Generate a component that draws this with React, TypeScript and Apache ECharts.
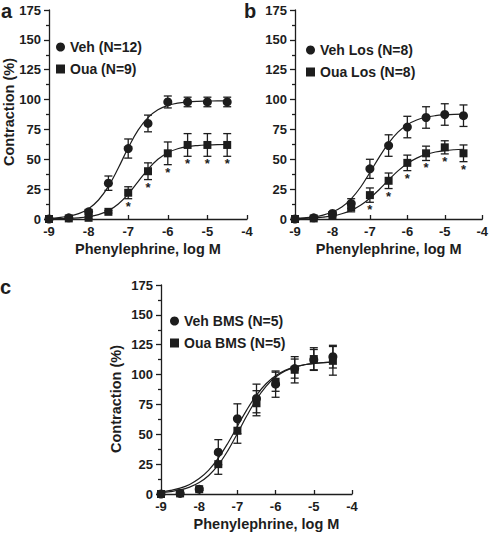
import React, { useEffect, useRef } from 'react';
import * as echarts from 'echarts';

const FONT = '"Liberation Sans", Arial, Helvetica, sans-serif';
const INK = '#1d1d1d';

// Phenylephrine doses (log M)
const DOSES = [-9, -8.5, -8, -7.5, -7, -6.5, -6, -5.5, -5, -4.5];

// Panel a
const VEH_A = [0, 1, 6, 30, 59, 80, 98, 98, 98, 98];
const VEH_A_ERR = [0, 1, 2, 6, 8, 7, 5, 4, 4, 4];
const OUA_A = [0, 0.5, 1, 6, 22, 40, 55, 62, 62, 62];
const OUA_A_ERR = [0, 0.5, 1, 1, 5, 7, 9.5, 9.5, 9.5, 9.5];
const STAR_A = [-7, -6.5, -6, -5.5, -5, -4.5];

// Panel b
const VEH_B = [0, 1, 4.7, 13, 42, 61.5, 77, 85, 87.5, 86.5];
const VEH_B_ERR = [0, 1, 1.5, 4, 8, 9, 9, 9, 9, 9];
const OUA_B = [0, 0.5, 3, 10, 20, 32, 47, 55, 60, 55];
const OUA_B_ERR = [0, 0.5, 1, 4, 6, 6.5, 6.5, 6, 5.5, 7];
const STAR_B = [-7, -6.5, -6, -5.5, -5, -4.5];

// Panel c
const VEH_C = [0, 0.5, 4, 35, 63, 80, 92, 105, 112.5, 115];
const VEH_C_ERR = [0, 0.5, 1, 10.5, 12.5, 12, 11, 8, 8.5, 9.5];
const OUA_C = [0, 0.5, 4, 25, 53, 76, 94, 104, 113, 111.5];
const OUA_C_ERR = [0, 0.5, 1, 8.5, 10.5, 10.5, 8, 11, 9.5, 12];

// Fitted curves read at quarter-log steps
const CURVE_X = [-9, -8.75, -8.5, -8.25, -8, -7.75, -7.5, -7.25, -7, -6.75, -6.5, -6.25, -6, -5.75, -5.5, -5.25, -5, -4.75, -4.5];
const VEH_A_FIT = [0.6, 1.2, 2.3, 4.5, 8.6, 15.9, 27.3, 42.7, 59.6, 74.4, 84.9, 91.4, 95.0, 97.0, 98.0, 98.5, 98.7, 98.9, 98.9];
const OUA_A_FIT = [0.1, 0.3, 0.5, 1.0, 1.9, 3.7, 7.0, 12.6, 20.9, 31.3, 41.6, 50.0, 55.5, 58.8, 60.6, 61.5, 62.0, 62.3, 62.4];
const VEH_B_FIT = [0.5, 1.0, 1.8, 3.3, 5.9, 10.1, 16.9, 26.6, 38.9, 51.8, 63.5, 72.7, 79.0, 82.9, 85.2, 86.5, 87.2, 87.6, 87.8];
const OUA_B_FIT = [0.3, 0.5, 0.9, 1.6, 2.6, 4.4, 7.2, 11.5, 17.4, 24.7, 32.7, 40.3, 46.5, 51.0, 54.1, 56.1, 57.3, 58.0, 58.4];
const VEH_C_FIT = [1.8, 3.0, 4.9, 8.0, 12.9, 20.0, 30.0, 42.5, 56.7, 70.7, 82.8, 92.3, 99.0, 103.5, 106.4, 108.2, 109.3, 110.0, 110.4];
const OUA_C_FIT = [1.2, 2.0, 3.4, 5.8, 9.6, 15.5, 24.3, 36.3, 50.7, 65.7, 79.3, 90.2, 97.9, 103.0, 106.2, 108.2, 109.4, 110.0, 110.4];

const X_NAME = 'Phenylephrine, log M';
const Y_NAME = 'Contraction (%)';

const pts = (xs: number[], ys: number[]) => xs.map((x, i) => [x, ys[i]]);
const errs = (xs: number[], ys: number[], es: number[]) => xs.map((x, i) => [x, ys[i], es[i]]);
const stars = (sx: number[], ys: number[], es: number[]) =>
  sx.map((x) => {
    const i = DOSES.indexOf(x);
    return [x, ys[i] - es[i]];
  });

const errRender = (_p: any, api: any) => {
  const x = api.value(0);
  const m = api.value(1);
  const e = api.value(2);
  if (!e) return { type: 'group', children: [] };
  const t = api.coord([x, m + e]);
  const b = api.coord([x, m - e]);
  const hw = 4;
  const style = { stroke: INK, lineWidth: 1.3 };
  return {
    type: 'group',
    children: [
      { type: 'line', shape: { x1: t[0], y1: t[1], x2: b[0], y2: b[1] }, style },
      { type: 'line', shape: { x1: t[0] - hw, y1: t[1], x2: t[0] + hw, y2: t[1] }, style },
      { type: 'line', shape: { x1: b[0] - hw, y1: b[1], x2: b[0] + hw, y2: b[1] }, style },
    ],
  };
};

const starRender = (_p: any, api: any) => {
  const p = api.coord([api.value(0), api.value(1)]);
  return {
    type: 'text',
    x: p[0],
    y: p[1] + 1,
    style: {
      text: '*',
      fontSize: 13,
      fontWeight: 'bold',
      fontFamily: FONT,
      fill: INK,
      align: 'center',
      verticalAlign: 'top',
    },
  };
};

const axisLineStyle = { color: INK, width: 1.3 };
const labelStyle = { fontSize: 13, fontWeight: 'bold' as const, color: INK, fontFamily: FONT };
const nameStyle = { fontSize: 14.5, fontWeight: 'bold' as const, color: INK, fontFamily: FONT };

const makeX = (gridIndex: number, pad: number[]) => ({
  gridIndex,
  type: 'value',
  min: -9,
  max: -4,
  interval: 1,
  axisLine: { show: true, onZero: false, lineStyle: axisLineStyle },
  axisTick: { show: true, inside: true, length: 4, lineStyle: axisLineStyle },
  axisLabel: { ...labelStyle, margin: 6 },
  splitLine: { show: false },
  name: X_NAME,
  nameLocation: 'middle',
  nameGap: 22,
  nameTextStyle: { ...nameStyle, padding: pad },
});

const makeY = (gridIndex: number) => ({
  gridIndex,
  type: 'value',
  min: 0,
  max: 175,
  interval: 25,
  axisLine: { show: true, lineStyle: axisLineStyle },
  axisTick: { show: true, inside: false, length: 5, lineStyle: axisLineStyle },
  minorTick: { show: true, splitNumber: 2, length: 3, lineStyle: axisLineStyle },
  axisLabel: { ...labelStyle, margin: 8 },
  splitLine: { show: false },
});

const curve = (name: string, idx: number, ys: number[]) => ({
  name,
  type: 'line',
  xAxisIndex: idx,
  yAxisIndex: idx,
  data: pts(CURVE_X, ys),
  smooth: 0.4,
  showSymbol: false,
  symbol: 'none',
  silent: true,
  lineStyle: { color: INK, width: 1.2 },
  z: 2,
});

const errSeries = (name: string, idx: number, ys: number[], es: number[]) => ({
  name,
  type: 'custom',
  coordinateSystem: 'cartesian2d',
  xAxisIndex: idx,
  yAxisIndex: idx,
  data: errs(DOSES, ys, es),
  encode: { x: 0, y: 1 },
  renderItem: errRender,
  silent: true,
  z: 3,
});

const markSeries = (name: string, idx: number, ys: number[], symbol: string, size: number) => ({
  name,
  type: 'scatter',
  xAxisIndex: idx,
  yAxisIndex: idx,
  data: pts(DOSES, ys),
  symbol,
  symbolSize: size,
  itemStyle: { color: INK, opacity: 1 },
  z: 4,
});

const starSeries = (name: string, idx: number, sx: number[], ys: number[], es: number[]) => ({
  name,
  type: 'custom',
  coordinateSystem: 'cartesian2d',
  xAxisIndex: idx,
  yAxisIndex: idx,
  data: stars(sx, ys, es),
  encode: { x: 0, y: 1 },
  renderItem: starRender,
  silent: true,
  z: 4,
});

// y-axis titles drawn by a coordinate-free custom series
const Y_TITLE_POS = [
  [9, 112],
  [116, 399],
];
const titleSeries = {
  name: 'yTitles',
  type: 'custom',
  coordinateSystem: 'none',
  data: Y_TITLE_POS,
  silent: true,
  renderItem: (_p: any, api: any) => ({
    type: 'text',
    x: api.value(0),
    y: api.value(1),
    rotation: Math.PI / 2,
    style: {
      text: Y_NAME,
      overflow: 'none',
      fontSize: 14.5,
      fontWeight: 'bold',
      fill: INK,
      fontFamily: FONT,
      align: 'center',
      verticalAlign: 'middle',
    },
  }),
};

const legendBase = {
  orient: 'vertical',
  itemWidth: 9,
  itemHeight: 9,
  itemGap: 8,
  itemTextGap: 8,
  padding: 0,
  selectedMode: false,
  itemStyle: { opacity: 1 },
  textStyle: { fontSize: 14, fontWeight: 'bold', color: INK, fontFamily: FONT },
};

const letter = (text: string, left: number, top: number) => ({
  type: 'text',
  left,
  top,
  style: { text, fontSize: 20, fontWeight: 'bold', fill: INK, fontFamily: FONT },
});

export default function App() {
  const ref = useRef<HTMLDivElement>(null);
  useEffect(() => {
    if (!ref.current) return;
    const chart = echarts.init(ref.current, undefined, { renderer: 'svg' });
    chart.setOption({
      animation: false,
      backgroundColor: '#ffffff',
      textStyle: { fontFamily: FONT },
      grid: [
        { left: 49, top: 10, width: 198, height: 209 },
        { left: 295, top: 10, width: 192, height: 209 },
        { left: 161, top: 285, width: 191, height: 209 },
      ],
      xAxis: [makeX(0, [0, 0, 0, 0]), makeX(1, [0, 0, 0, 0]), makeX(2, [0, 0, 0, 20])],
      yAxis: [makeY(0), makeY(1), makeY(2)],
      legend: [
        {
          ...legendBase,
          left: 56,
          top: 40,
          data: [
            { name: 'Veh (N=12)', icon: 'circle' },
            { name: 'Oua (N=9)', icon: 'rect' },
          ],
        },
        {
          ...legendBase,
          left: 306,
          top: 43,
          data: [
            { name: 'Veh Los (N=8)', icon: 'circle' },
            { name: 'Oua Los (N=8)', icon: 'rect' },
          ],
        },
        {
          ...legendBase,
          left: 170,
          top: 314,
          data: [
            { name: 'Veh BMS (N=5)', icon: 'circle' },
            { name: 'Oua BMS (N=5)', icon: 'rect' },
          ],
        },
      ],
      graphic: [letter('a', 1, 1), letter('b', 244, 1), letter('c', 0, 277)],
      series: [
        curve('fitVehA', 0, VEH_A_FIT),
        curve('fitOuaA', 0, OUA_A_FIT),
        errSeries('errVehA', 0, VEH_A, VEH_A_ERR),
        errSeries('errOuaA', 0, OUA_A, OUA_A_ERR),
        markSeries('Veh (N=12)', 0, VEH_A, 'circle', 9),
        markSeries('Oua (N=9)', 0, OUA_A, 'rect', 8),
        starSeries('starA', 0, STAR_A, OUA_A, OUA_A_ERR),

        curve('fitVehB', 1, VEH_B_FIT),
        curve('fitOuaB', 1, OUA_B_FIT),
        errSeries('errVehB', 1, VEH_B, VEH_B_ERR),
        errSeries('errOuaB', 1, OUA_B, OUA_B_ERR),
        markSeries('Veh Los (N=8)', 1, VEH_B, 'circle', 9),
        markSeries('Oua Los (N=8)', 1, OUA_B, 'rect', 8),
        starSeries('starB', 1, STAR_B, OUA_B, OUA_B_ERR),

        curve('fitVehC', 2, VEH_C_FIT),
        curve('fitOuaC', 2, OUA_C_FIT),
        errSeries('errVehC', 2, VEH_C, VEH_C_ERR),
        errSeries('errOuaC', 2, OUA_C, OUA_C_ERR),
        markSeries('Veh BMS (N=5)', 2, VEH_C, 'circle', 9),
        markSeries('Oua BMS (N=5)', 2, OUA_C, 'rect', 8),

        titleSeries,
      ],
    });
    return () => chart.dispose();
  }, []);
  return <div ref={ref} style={{ position: 'absolute', left: 0, top: 0, width: 491, height: 534 }} />;
}
